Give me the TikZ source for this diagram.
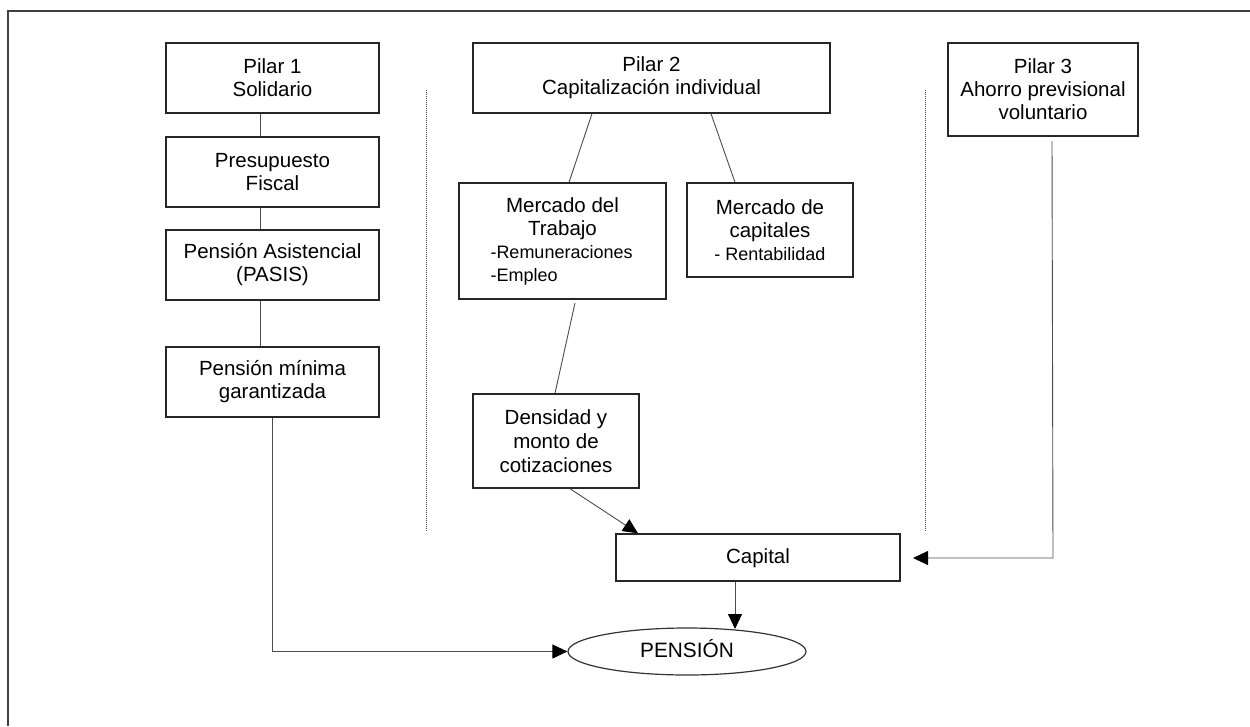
\documentclass[tikz,border=0pt]{standalone}
\usepackage{fontspec}
\setmainfont{Liberation Sans}
\usetikzlibrary{arrows.meta,shapes.geometric}
\begin{document}
\begin{tikzpicture}[x=1pt,y=-1pt,
  box/.style={draw=black!85,line width=1.4pt,inner sep=0pt,align=center,
    font=\fontsize{20.5}{23}\selectfont},
  conn/.style={draw=black!70,line width=0.9pt},
  arr/.style={-{Triangle[length=15pt,width=14pt,color=black]}},
  sep/.style={draw=black!75,line width=0.9pt,dash pattern=on 1pt off 1pt},
  frame/.style={draw=black!75,line width=1.6pt}]
\useasboundingbox (0,0) rectangle (1250,726);

% outer frame (top and left edges)
\draw[frame] (8,726) -- (8,11) -- (1250,11);

% separators
\draw[sep] (426,90) -- (426,532);
\draw[sep] (925,90) -- (925,532);

% pillar 1
\node[box,minimum width=213pt,minimum height=70pt] (p1) at (272.5,78) {Pilar 1\\Solidario};
\node[box,minimum width=213pt,minimum height=70pt] (pf) at (272.5,172) {Presupuesto\\Fiscal};
\node[box,minimum width=213pt,minimum height=70pt] (pa) at (272.5,265) {Pensión Asistencial\\(PASIS)};
\node[box,minimum width=213pt,minimum height=70pt] (pm) at (272.5,382) {Pensión mínima\\garantizada};

% pillar 2
\node[box,minimum width=357pt,minimum height=70pt] (p2) at (651.5,78) {Pilar 2\\Capitalización individual};
\node[box,minimum width=207pt,minimum height=116pt] (mt) at (562.5,241)
  {Mercado del\\Trabajo\\{\fontsize{18}{22}\selectfont\makebox[144pt][l]{-Remuneraciones}}\\{\fontsize{18}{22}\selectfont\makebox[144pt][l]{-Empleo}}};
\node[box,minimum width=166pt,minimum height=94pt] (mc) at (770,230)
  {Mercado de\\capitales\\{\fontsize{18}{22}\selectfont - Rentabilidad}};
\node[box,minimum width=166pt,minimum height=94pt,font=\fontsize{20.5}{24}\selectfont] (dn) at (556,441)
  {Densidad y\\monto de\\cotizaciones};
\node[box,minimum width=284pt,minimum height=47pt,text height=15pt,text depth=4pt] (cap) at (758,557.5) {Capital};

% pillar 3
\node[box,minimum width=190pt,minimum height=93pt] (p3) at (1043,89.5) {Pilar 3\\Ahorro previsional\\voluntario};

% pension
\node[ellipse,draw=black!80,line width=1.2pt,minimum width=238pt,minimum height=47pt,inner sep=0pt,
  font=\fontsize{20.8}{23}\selectfont,text height=15pt,text depth=4pt] (pen) at (687,651.5) {PENSIÓN};

% helper coordinates
\coordinate (c1) at (260,0);
\coordinate (m1a) at (592,0);
\coordinate (m1b) at (569,0);
\coordinate (m2a) at (711,0);
\coordinate (m2b) at (735,0);
\coordinate (tda) at (575,303);
\coordinate (tdb) at (555,0);
\coordinate (dca) at (570,0);
\coordinate (dcb) at (638,0);
\coordinate (cpx) at (735,0);
\coordinate (penin) at (735,629);
\coordinate (p3a) at (1052,141);
\coordinate (p3b) at (1053,558);
\coordinate (captip) at (913,558);

% pillar 1 chain
\draw[conn] (p1.south -| c1) -- (pf.north -| c1);
\draw[conn] (pf.south -| c1) -- (pa.north -| c1);
\draw[conn] (pa.south -| c1) -- (pm.north -| c1);
\draw[conn,arr] (pm.south) -- (pm.south |- pen.west) -- (pen.west);

% pillar 2 links
\draw[conn] (p2.south -| m1a) -- (mt.north -| m1b);
\draw[conn] (p2.south -| m2a) -- (mc.north -| m2b);
\draw[conn] (tda) -- (dn.north -| tdb);
\draw[conn,arr] (dn.south -| dca) -- (cap.north -| dcb);
\draw[conn,arr] (cap.south -| cpx) -- (penin);

% pillar 3 link
\draw[conn,arr] (p3a) -- (p3b) -- (captip);
\end{tikzpicture}
\end{document}
